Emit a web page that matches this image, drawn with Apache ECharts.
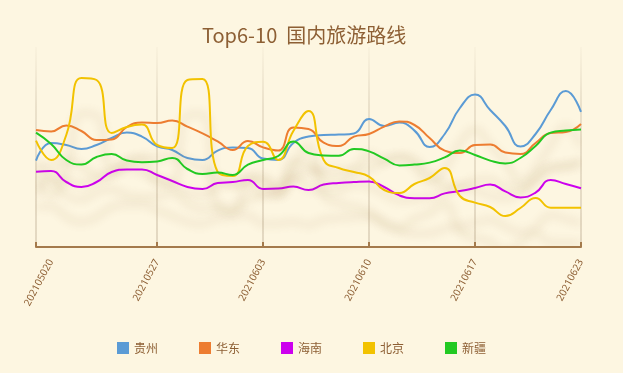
<!DOCTYPE html>
<html><head><meta charset="utf-8">
<script src="https://cdn.jsdelivr.net/npm/echarts@6/dist/echarts.min.js"></script>
<style>html,body{margin:0;padding:0;background:#fdf6e1;} #c{width:623px;height:373px;}</style>
</head><body><div id="c"></div>
<script>
// categories (daily points on the axis)
const dates = ["20210519","20210520","20210521","20210522","20210523","20210524","20210525","20210526","20210527","20210528","20210529","20210530","20210531","20210601","20210602","20210603","20210604","20210605","20210606","20210607","20210608","20210609","20210610","20210611","20210612","20210613","20210614","20210615","20210616","20210617","20210618","20210619","20210620","20210621","20210622","20210623","20210624"];
// tick marks / split lines and the tick labels as shown
const tickIndex = [0, 8, 15, 22, 29, 36];
const labelIndex = [1, 8, 15, 22, 29, 36];
const tickLabels = ["202105020","20210527","20210603","20210610","20210617","20210623"];
const seriesNames = ["贵州","华东","海南","北京","新疆"];
const guizhou = [43.2,52,51,49,51,54.5,57.2,55.2,50.3,48.5,44.5,43.5,48.2,49.8,49.5,44.2,43.5,52,55.2,56,56.2,56.8,64,60.5,62.2,58.2,50,56.5,69.5,76.2,68.5,60.5,50.2,56.5,68.5,78,67.6];
const huadong = [58.5,57.8,60.8,58,53.5,53.8,60,62.2,62,63.2,60.2,56.8,52.8,48.5,53,49.8,48.2,59.8,59,52.2,50.5,55.2,56.5,60.2,62.8,61,54.5,48.2,47,51,51.2,47.2,46.5,52,57,57.5,61.5];
const hainan = [37.6,38,32.5,30,32.5,37.5,38.8,38.8,36,33,30,29,32,32.5,33.5,29,29.2,30.2,28.5,31.2,32,32.5,32.8,30,25.8,24.4,24.4,26.8,28,29.5,31.2,27.8,24.8,27.2,33.5,31.5,29.4];
const beijing = [53.2,43.5,56,84.5,83.5,57,60,61.2,51,49.5,83.5,84,37.5,35.5,50.5,52.6,43.5,58,68,43.5,39.5,37.5,35.2,28.5,27,31.5,34.5,39.5,25.5,22.2,20,15.5,19.5,24.5,19.6,19.6,19.6];
const xinjiang = [57.2,51.5,43.5,41.2,45,46.5,43.2,42.4,42.8,44.5,39,36.5,37.2,36,41.2,43.5,45.5,52.8,47,45.8,45.6,49,47.8,44.2,40.8,41.2,42.2,44.8,48.2,46,43.2,41.8,44.5,50.5,57.2,58.2,58.8];
const allValues = [guizhou, huadong, hainan, beijing, xinjiang];
const colors = ["#5b9bd5","#ed7d31","#cc00ee","#f2c200","#22c922"];

const chart = echarts.init(document.getElementById('c'));
const showTick = (i) => tickIndex.indexOf(i) >= 0;
const showLabel = (i) => labelIndex.indexOf(i) >= 0;
chart.setOption({
  backgroundColor: '#fdf6e1',
  color: colors,
  title: {
    text: 'Top6-10  国内旅游路线',
    left: 197, top: 20,
    textStyle: {color: '#8d5f34', fontSize: 20, fontWeight: 'normal', fontFamily: 'Noto Sans CJK SC'}
  },
  legend: {
    data: seriesNames,
    left: 112, top: 337,
    itemWidth: 12, itemHeight: 12, itemGap: 41,
    icon: 'rect',
    textStyle: {color: '#8d5f34', fontSize: 12, fontFamily: 'Noto Sans CJK SC'}
  },
  grid: {left: 36, right: 42, top: 47, bottom: 126},
  xAxis: {
    type: 'category',
    boundaryGap: false,
    data: dates,
    axisLine: {lineStyle: {color: '#a47a4c', width: 2}},
    axisTick: {inside: true, length: 5, interval: (i) => showTick(i), lineStyle: {color: '#a47a4c', width: 2}},
    axisLabel: {
      interval: (i) => showLabel(i), rotate: 62, fontSize: 10, color: '#8d5f34', margin: 13,
      fontFamily: 'Noto Sans',
      formatter: (v, i) => { const k = labelIndex.indexOf(i); return k >= 0 ? tickLabels[k] : ''; }
    },
    splitLine: {show: true, interval: (i) => showTick(i), lineStyle: {
      color: new echarts.graphic.LinearGradient(0, 0, 0, 1, [
        {offset: 0, color: 'rgba(200,185,160,0.05)'},
        {offset: 0.3, color: 'rgba(200,185,160,0.35)'},
        {offset: 1, color: 'rgba(200,185,160,0.5)'}
      ]), width: 2}}
  },
  yAxis: {type: 'value', min: 0, max: 100, show: false, splitLine: {show: false}},
  series: seriesNames.map((n, i) => ({
    name: n, type: 'line', smooth: true, symbol: 'none', data: allValues[i],
    lineStyle: {width: 2, color: colors[i], shadowColor: 'rgba(150,110,50,0.32)', shadowBlur: 10, shadowOffsetY: 35}
  }))
});
</script></body></html>
